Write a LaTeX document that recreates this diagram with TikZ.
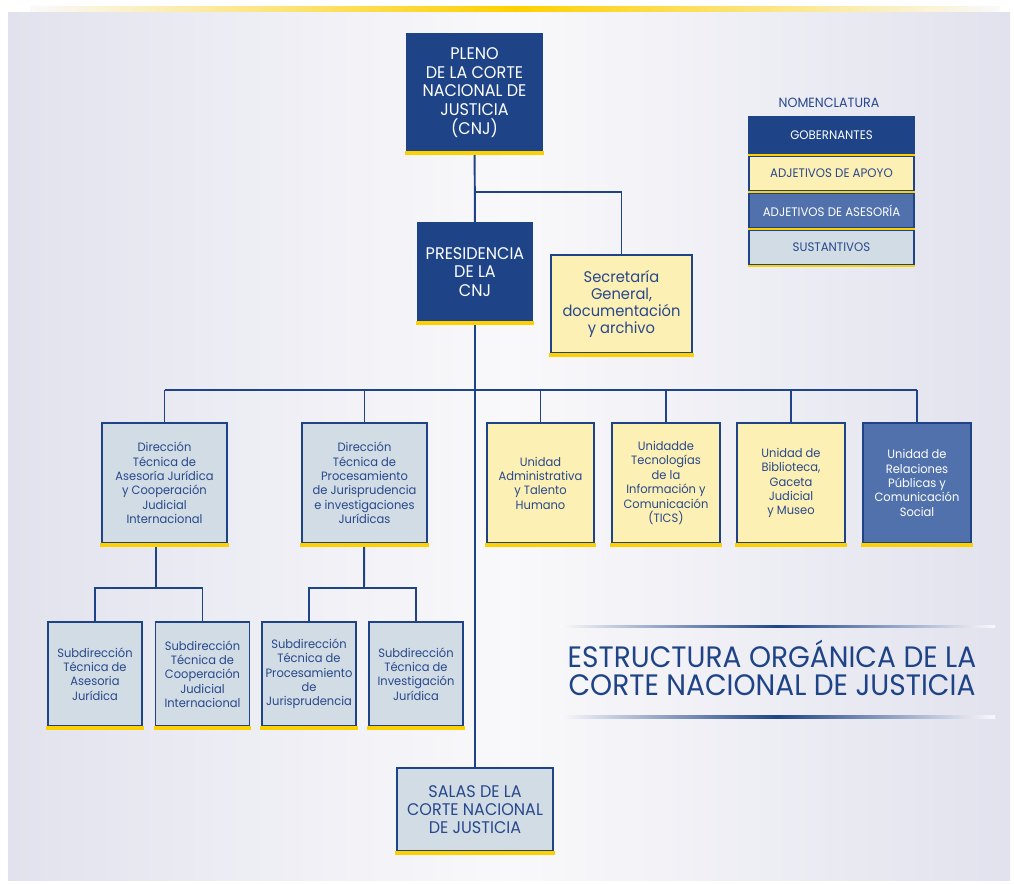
\documentclass[tikz,border=0pt]{standalone}
\usepackage{fontspec}
\setmainfont[FakeStretch=0.95]{Poppins}
\usetikzlibrary{positioning, calc}
\definecolor{cnjblue}{RGB}{30,68,135}
\definecolor{asesblue}{RGB}{80,113,171}
\definecolor{apoyofill}{RGB}{253,240,180}
\definecolor{sustfill}{RGB}{209,220,228}
\definecolor{ybar}{RGB}{255,208,0}
\definecolor{txtblue}{RGB}{40,72,140}
\definecolor{bgside}{RGB}{226,226,238}
\definecolor{bgmid}{RGB}{249,249,251}
\tikzset{
  orgbox/.style={rectangle, draw=cnjblue, line width=1pt, align=center,
    inner sep=2pt, font=\fontsize{8.6}{10.2}\selectfont},
  govbox/.style={orgbox, fill=cnjblue, text=white,
    font=\fontsize{12}{13.2}\selectfont},
  apoyobox/.style={orgbox, fill=apoyofill, text=txtblue},
  asesbox/.style={orgbox, fill=asesblue, text=white},
  sustbox/.style={orgbox, fill=sustfill, text=txtblue},
  legbox/.style={minimum width=4.125cm, minimum height=0.875cm,
    font=\fontsize{8.8}{9}\selectfont},
  link/.style={line width=1.4pt, color=cnjblue},
  yline/.style={fill=ybar}
}
\begin{document}
\begin{tikzpicture}[x=0.025cm, y=-0.025cm]
  \useasboundingbox (0,0) rectangle (1014,883);
  % Background
  \fill[white] (0,0) rectangle (1014,883);
  \shade[left color=bgside, right color=bgside, middle color=bgmid] (8,12) rectangle (1010,880);
  \shade[left color=bgmid, right color=bgmid, middle color=ybar] (30,6) rectangle (1000,11);

  % Pleno and presidencia
  \node[govbox, minimum width=3.375cm, minimum height=2.925cm] (pleno) at (474.5,92.5) {PLENO\\DE LA CORTE\\NACIONAL DE\\JUSTICIA\\(CNJ)};
  \node[govbox, minimum width=2.85cm, minimum height=2.45cm] (pres) at (475,272) {PRESIDENCIA\\DE LA\\CNJ};
  \node[apoyobox, font=\fontsize{11}{12.2}\selectfont, minimum width=3.525cm, minimum height=2.45cm] (secgen) at (621.5,304) {Secretaría\\General,\\documentación\\y archivo};

  % Second level
  \node[sustbox, minimum width=3.125cm, minimum height=3cm] (dir1) at (164.5,483) {Dirección\\Técnica de\\Asesoría Jurídica\\y Cooperación\\Judicial\\Internacional};
  \node[sustbox, minimum width=3.125cm, minimum height=3cm] (dir2) at (364.5,483) {Dirección\\Técnica de\\Procesamiento\\de Jurisprudencia\\e investigaciones\\Jurídicas};
  \node[apoyobox, minimum width=2.675cm, minimum height=3cm] (uadm) at (540.5,483) {Unidad\\Administrativa\\y Talento\\Humano};
  \node[apoyobox, minimum width=2.7cm, minimum height=3cm] (utic) at (666,483) {Unidadde\\Tecnologías\\de la\\Información y\\Comunicación\\(TICS)};
  \node[apoyobox, minimum width=2.7cm, minimum height=3cm] (ubib) at (791,483) {Unidad de\\Biblioteca,\\Gaceta\\Judicial\\y Museo};
  \node[asesbox, minimum width=2.7cm, minimum height=3cm] (urel) at (917,483) {Unidad de\\Relaciones\\Públicas y\\Comunicación\\Social};

  % Subdirecciones
  \node[sustbox, minimum width=2.35cm, minimum height=2.6cm] (sub1) at (95,674) {Subdirección\\Técnica de\\Asesoria\\Jurídica};
  \node[sustbox, minimum width=2.35cm, minimum height=2.6cm] (sub2) at (202.5,674) {Subdirección\\Técnica de\\Cooperación\\Judicial\\Internacional};
  \node[sustbox, minimum width=2.35cm, minimum height=2.6cm] (sub3) at (309,674) {Subdirección\\Técnica de\\Procesamiento\\de\\Jurisprudencia};
  \node[sustbox, minimum width=2.35cm, minimum height=2.6cm] (sub4) at (416,674) {Subdirección\\Técnica de\\Investigación\\Jurídica};

  % Salas
  \node[sustbox, font=\fontsize{12}{13}\selectfont, minimum width=3.9cm, minimum height=2.075cm] (salas) at (475,809.5) {SALAS DE LA\\CORTE NACIONAL\\DE JUSTICIA};

  % Connect lines
  \coordinate (jsec) at (475,192);
  \coordinate (bus) at (475,390);
  \coordinate (jdir1) at (156,588);
  \coordinate (jdir2) at (364,588);
  \draw[link] (pleno) -- (pres);
  \draw[link] (jsec) -| (secgen);
  \draw[link] (pres) -- (salas);
  \draw[link] (bus -| dir1) -- (bus -| urel);
  \foreach \n in {dir1,dir2,uadm,utic,ubib,urel}
    \draw[link] (bus -| \n) -- (\n);
  \draw[link] (dir1.south -| jdir1) -- (jdir1);
  \draw[link] (sub1) |- (jdir1) -| (sub2);
  \draw[link] (dir2) -- (jdir2);
  \draw[link] (sub3) |- (jdir2) -| (sub4);

  % Yellow bars
  \foreach \n in {pleno,pres,secgen,dir1,dir2,uadm,utic,ubib,urel,sub1,sub2,sub3,sub4,salas}
    \fill[yline] ($(\n.south west)+(-1,-1)$) rectangle ($(\n.south east)+(1,3)$);

  % Legend
  \node[font=\fontsize{9.5}{10}\selectfont, text=txtblue] (nomen) at (829,103) {NOMENCLATURA};
  \node[govbox, legbox, minimum height=0.925cm] (lgob) at (831.5,135.5) {GOBERNANTES};
  \node[apoyobox, legbox] (lapoyo) at (831.5,173.5) {ADJETIVOS DE APOYO};
  \node[asesbox, legbox] (lases) at (831.5,210.5) {ADJETIVOS DE ASESORÍA};
  \node[sustbox, legbox] (lsust) at (831.5,247.5) {SUSTANTIVOS};
  \foreach \n in {lgob,lapoyo,lases,lsust}
    \fill[yline] ($(\n.south west)+(-0.5,-1)$) rectangle ($(\n.south east)+(0.5,1.5)$);

  % Title
  \node[font=\fontsize{21}{19.5}\selectfont, text=cnjblue, align=center] (title) at (772,668) {ESTRUCTURA ORGÁNICA DE LA\\CORTE NACIONAL DE JUSTICIA};
  \shade[left color=bgmid, right color=bgmid, middle color=cnjblue] (560,625) rectangle (995,627.5);
  \shade[left color=bgmid, right color=bgmid, middle color=cnjblue] (560,715.5) rectangle (995,718);
\end{tikzpicture}
\end{document}
